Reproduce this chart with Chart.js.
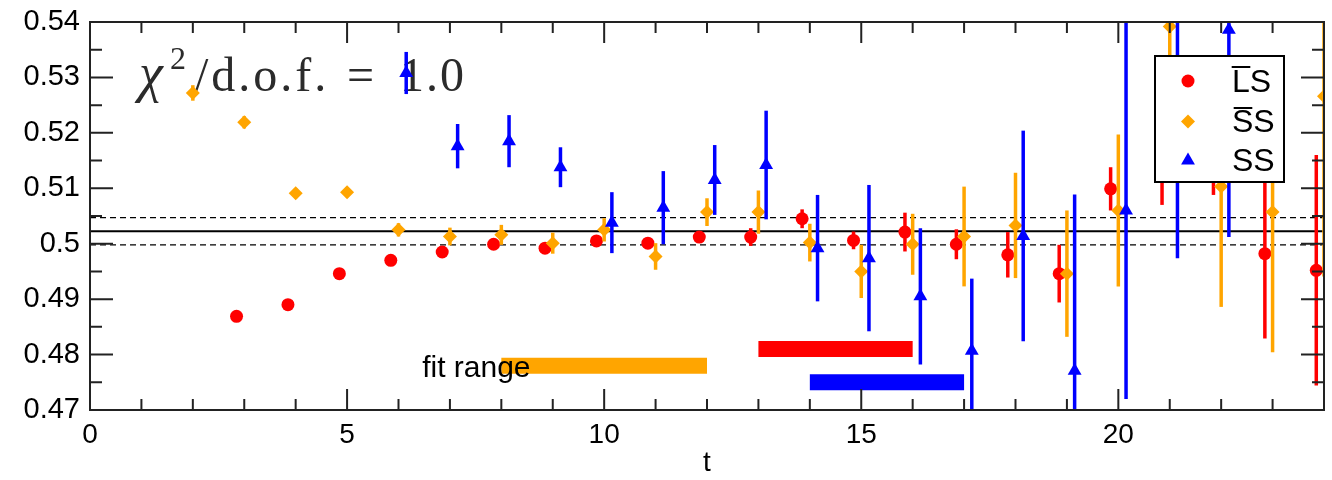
<!DOCTYPE html>
<html>
<head>
<meta charset="utf-8">
<script src="https://cdn.jsdelivr.net/npm/chart.js@4.4.1/dist/chart.umd.min.js"></script>
<style>
  html, body { margin: 0; padding: 0; background: #fff; }
  #wrap { width: 1332px; height: 480px; }
</style>
</head>
<body>
<div id="wrap"><canvas id="chart" width="1332" height="480"></canvas></div>
<script>
// effective mass per timeslice, three correlators
const tLS  = [3, 4, 5, 6, 7, 8, 9, 10, 11, 12, 13, 14, 15, 16, 17, 18, 19, 20, 21, 22, 23, 24];
const mLS  = [0.4869, 0.4890, 0.4946, 0.4970, 0.4985, 0.4999, 0.4992, 0.5005, 0.5001, 0.5012, 0.5012,
              0.5045, 0.5006, 0.5021, 0.4999, 0.4980, 0.4946, 0.5099, 0.5140, 0.5140, 0.4982, 0.4952];
const eLS  = [0.0003, 0.0003, 0.0004, 0.0004, 0.0005, 0.0006, 0.0007, 0.0008, 0.0009, 0.0010, 0.0016,
              0.0017, 0.0016, 0.0035, 0.0027, 0.0041, 0.0052, 0.0039, 0.0070, 0.0052, 0.0153, 0.0208];

const tSSbar = [2, 3, 4, 5, 6, 7, 8, 9, 10, 11, 12, 13, 14, 15, 16, 17, 18, 19, 20, 21, 22, 23, 24];
const mSSbar = [0.5272, 0.5219, 0.5091, 0.5093, 0.5025, 0.5013, 0.5016, 0.5001, 0.5025, 0.4977, 0.5057, 0.5057,
                0.5002, 0.4950, 0.4999, 0.5013, 0.5033, 0.4946, 0.5060, 0.5392, 0.5103, 0.5057, 0.5266];
const eSSbar = [0.0014, 0.0011, 0.0009, 0.0009, 0.0012, 0.0016, 0.0018, 0.0019, 0.0021, 0.0024, 0.0025, 0.0039,
                0.0034, 0.0048, 0.0055, 0.0090, 0.0095, 0.0114, 0.0137, 0.0100, 0.0217, 0.0253, 0.0325];

const tSS  = [6, 7, 8, 9, 10, 11, 12, 13, 14, 15, 16, 17, 18, 19, 20, 21, 22];
const mSS  = [0.5308, 0.5176, 0.5185, 0.5138, 0.5038, 0.5065, 0.5115, 0.5142, 0.4992, 0.4974, 0.4905,
              0.4807, 0.5014, 0.4771, 0.5060, 0.5210, 0.5386];
const eSS  = [0.0038, 0.0040, 0.0047, 0.0036, 0.0055, 0.0066, 0.0063, 0.0098, 0.0096, 0.0132, 0.0123,
              0.0130, 0.0190, 0.0318, 0.0340, 0.0236, 0.0374];

// horizontal shift of each set so the symbols don't sit on top of each other
const shiftLS = -0.15, shiftSSbar = 0, shiftSS = 0.15;

// combined fit result and fit windows
const fitValue = 0.50225;
const fitError = 0.00245;
const fitStart = [8, 13, 14];
const fitEnd   = [12, 16, 17];
const fitLevel = [0.478, 0.481, 0.475];

const legendLabels = ['L\u0305S', 'S\u0305S', 'SS'];
const xTicks = [0, 5, 10, 15, 20];
const xTickLabels = ['0', '5', '10', '15', '20'];
const yTicks = [0.47, 0.48, 0.49, 0.50, 0.51, 0.52, 0.53, 0.54];
const yTickLabels = ['0.47', '0.48', '0.49', '0.5', '0.51', '0.52', '0.53', '0.54'];

const RED = '#ff0000', ORANGE = '#ffa500', BLUE = '#0000ff';
const SANS = '"Liberation Sans", Arial, sans-serif';
const SERIF = '"Liberation Serif", "DejaVu Serif", serif';

const pts = (ts, ms, dx) => ts.map((t, i) => ({ x: t + dx, y: ms[i] }));

const series = [
  { label: legendLabels[0], data: pts(tLS, mLS, shiftLS), errors: eLS, color: RED, style: 'circle', r: 6.5, order: 3 },
  { label: legendLabels[1], data: pts(tSSbar, mSSbar, shiftSSbar), errors: eSSbar, color: ORANGE, style: 'rectRot', r: 7, order: 2 },
  { label: legendLabels[2], data: pts(tSS, mSS, shiftSS), errors: eSS, color: BLUE, style: 'triangle', r: 8, order: 1 }
];

const datasets = [];

// fit band: central value and +/- one sigma
[[fitValue, [], 2], [fitValue + fitError, [6, 4], 1.3], [fitValue - fitError, [6, 4], 1.3]].forEach(([v, dash, w]) => {
  datasets.push({
    type: 'line', data: [{ x: 0, y: v }, { x: 24, y: v }],
    borderColor: '#000', borderWidth: w, borderDash: dash, pointRadius: 0, order: 6
  });
});

// fit windows as thick bars
const fitColors = [ORANGE, RED, BLUE];
fitStart.forEach((s, i) => {
  datasets.push({
    type: 'line', data: [{ x: s, y: fitLevel[i] }, { x: fitEnd[i], y: fitLevel[i] }],
    borderColor: fitColors[i], borderWidth: 16, borderCapStyle: 'butt', pointRadius: 0, order: 5
  });
});

series.forEach(s => {
  datasets.push({
    type: 'scatter', label: s.label, data: s.data, errors: s.errors,
    pointStyle: s.style, pointRadius: s.r, pointHoverRadius: s.r,
    backgroundColor: s.color, borderColor: s.color, borderWidth: 0,
    order: s.order
  });
});

const errorBars = {
  id: 'errorBars',
  beforeDatasetDraw(chart, args) {
    const ds = chart.data.datasets[args.index];
    if (!ds.errors) return;
    const { ctx, chartArea: a, scales: { x, y } } = chart;
    ctx.save();
    ctx.beginPath();
    ctx.rect(a.left, a.top, a.right - a.left, a.bottom - a.top);
    ctx.clip();
    ctx.strokeStyle = ds.borderColor;
    ctx.lineWidth = 3.5;
    ds.data.forEach((p, i) => {
      const px = x.getPixelForValue(p.x);
      ctx.beginPath();
      ctx.moveTo(px, y.getPixelForValue(p.y - ds.errors[i]));
      ctx.lineTo(px, y.getPixelForValue(p.y + ds.errors[i]));
      ctx.stroke();
    });
    ctx.restore();
  }
};

const annotations = {
  id: 'annotations',
  beforeDatasetsDraw(chart) {
    const { ctx } = chart;
    ctx.save();
    ctx.fillStyle = '#2b2b2b';
    ctx.textBaseline = 'alphabetic';
    ctx.font = 'italic 54px ' + SERIF;
    ctx.fillText('\u03c7', 139, 91);
    ctx.font = '32px ' + SERIF;
    ctx.fillText('2', 170, 69);
    ctx.font = '48px ' + SERIF;
    ctx.letterSpacing = '3px';
    ctx.fillText('/d.o.f.', 195, 91);
    ctx.letterSpacing = '0px';
    ctx.fillText('=', 347, 91);
    ctx.letterSpacing = '2px';
    ctx.fillText('1.0', 400, 91);
    ctx.restore();
  },
  afterDatasetsDraw(chart) {
    const { ctx, scales: { x, y } } = chart;
    ctx.save();
    ctx.fillStyle = '#000';
    ctx.font = '30px ' + SANS;
    ctx.textBaseline = 'alphabetic';
    ctx.fillText('fit range', x.getPixelForValue(6.46), y.getPixelForValue(0.4760));
    ctx.restore();
  }
};

// closed box with inward ticks on all four sides
const frame = {
  id: 'frame',
  afterDatasetsDraw(chart) {
    const { ctx, chartArea: a, scales: { x, y } } = chart;
    ctx.save();
    ctx.strokeStyle = '#222';
    ctx.lineWidth = 2;
    ctx.beginPath();
    for (let i = 0; i <= 24; i++) {
      const px = x.getPixelForValue(i);
      const len = i % 5 === 0 ? 21 : 11;
      ctx.moveTo(px, a.bottom); ctx.lineTo(px, a.bottom - len);
      ctx.moveTo(px, a.top); ctx.lineTo(px, a.top + len);
    }
    for (let i = 0; i <= 14; i++) {
      const py = y.getPixelForValue(0.47 + i * 0.005);
      const len = i % 2 === 0 ? 23 : 12;
      ctx.moveTo(a.left, py); ctx.lineTo(a.left + len, py);
      ctx.moveTo(a.right, py); ctx.lineTo(a.right - len, py);
    }
    ctx.stroke();
    ctx.strokeRect(a.left, a.top, a.right - a.left, a.bottom - a.top);
    ctx.restore();
  },
  afterDraw(chart) {
    // legend box in the upper right corner
    const { ctx } = chart;
    const bx = 1155, by = 56, bw = 129, bh = 126;
    ctx.save();
    ctx.fillStyle = '#fff';
    ctx.fillRect(bx, by, bw, bh);
    ctx.strokeStyle = '#000';
    ctx.lineWidth = 2;
    ctx.strokeRect(bx, by, bw, bh);
    const rows = [81, 121.5, 160.5];
    series.forEach((s, i) => {
      ctx.fillStyle = s.color;
      Chart.helpers.drawPoint(ctx, { pointStyle: s.style, radius: s.r, rotation: 0, borderWidth: 0 }, 1188, rows[i]);
      ctx.fillStyle = '#000';
      ctx.font = '32px ' + SANS;
      ctx.textBaseline = 'middle';
      ctx.fillText(s.label, 1232, rows[i] + 2);
    });
    ctx.restore();
  }
};

new Chart(document.getElementById('chart'), {
  type: 'scatter',
  data: { datasets },
  options: {
    responsive: false,
    animation: false,
    layout: { padding: { top: 22, right: 4, left: 0, bottom: 0 } },
    plugins: { legend: { display: false }, tooltip: { enabled: false } },
    scales: {
      x: {
        type: 'linear', min: 0, max: 24,
        grid: { display: false, drawTicks: false },
        border: { display: false },
        afterBuildTicks: s => { s.ticks = xTicks.map(v => ({ value: v })); },
        ticks: {
          color: '#000', font: { family: SANS, size: 28 }, padding: 8, maxRotation: 0,
          callback: (v, i) => xTickLabels[i]
        },
        title: { display: true, text: 't', color: '#000', font: { family: SANS, size: 28 }, padding: 0 },
        afterFit: s => { s.height = 70; }
      },
      y: {
        type: 'linear', min: 0.47, max: 0.54,
        grid: { display: false, drawTicks: false },
        border: { display: false },
        afterBuildTicks: s => { s.ticks = yTicks.map(v => ({ value: v })); },
        ticks: {
          color: '#000', font: { family: SANS, size: 29 }, padding: 10,
          callback: (v, i) => yTickLabels[i]
        },
        afterFit: s => { s.width = 90; s.paddingTop = 0; s.paddingBottom = 0; }
      }
    }
  },
  plugins: [errorBars, annotations, frame]
});
</script>
</body>
</html>
